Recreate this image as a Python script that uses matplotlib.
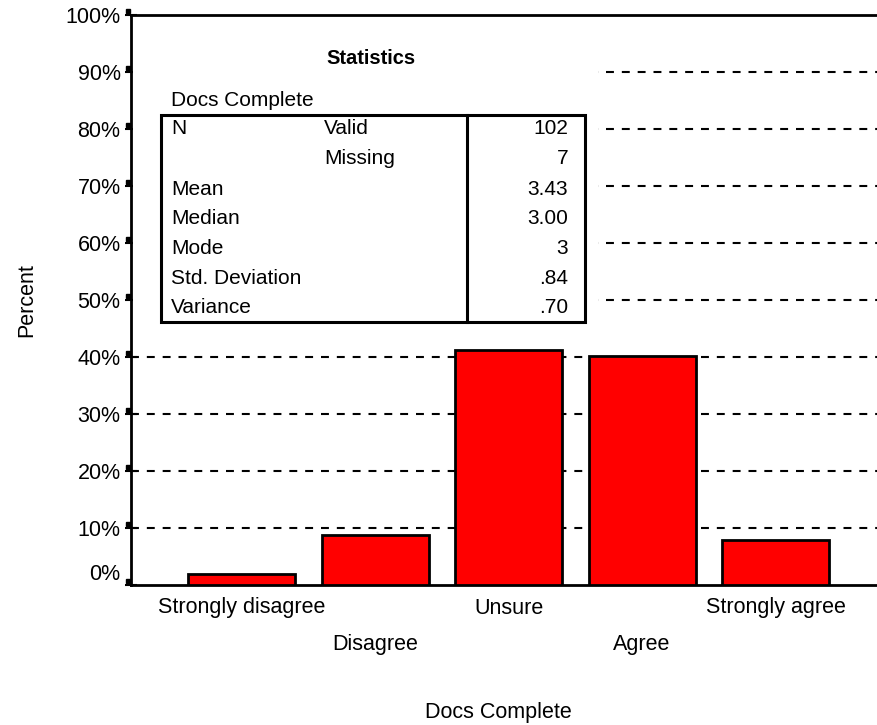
import matplotlib
matplotlib.use("Agg")
import matplotlib.pyplot as plt
from matplotlib.patches import Rectangle

plt.rcParams['font.family'] = ['Liberation Sans', 'DejaVu Sans']

# bar data (percent of valid cases)
categories = ["Strongly disagree", "Disagree", "Unsure", "Agree", "Strongly agree"]
percents = [1.96, 8.82, 41.18, 40.20, 7.84]
yticks = [0, 10, 20, 30, 40, 50, 60, 70, 80, 90, 100]
ytick_labels = ["%d%%" % v for v in yticks]

# statistics table
stat_rows = ["N", "", "Mean", "Median", "Mode", "Std. Deviation", "Variance"]
stat_sub = ["Valid", "Missing", "", "", "", "", ""]
stat_vals = ["102", "7", "3.43", "3.00", "3", ".84", ".70"]

W, H = 877, 725
fig = plt.figure(figsize=(W / 100, H / 100), dpi=100)
ax = fig.add_axes([131 / W, 1 - 585 / H, 746 / W, 570 / H])

x = range(len(categories))
ax.bar(x, percents, width=0.8, color="#ff0000", edgecolor="black", linewidth=2, zorder=3)
for v in yticks[1:-1]:
    ax.axhline(v, color="black", linewidth=1.5, dashes=(3.8, 3.8), zorder=1)

ax.set_xlim(-0.83, 4.76)
ax.set_ylim(0, 100)
ax.set_yticks(yticks, ytick_labels, fontsize=15.5)
ax.set_xticks(list(x), categories, fontsize=15.5)
ax.tick_params(axis="x", length=0)
ax.tick_params(axis="y", direction="inout", length=8, width=1.5)
for i, t in enumerate(ax.xaxis.get_major_ticks()):
    t.set_pad(9 if i % 2 == 0 else 35)
ax.get_yticklabels()[0].set_va("bottom")
# small square tick markers next to the axis
ax.plot([-0.004] * len(yticks), [v + 0.7 for v in yticks], "s", color="black", ms=3,
        transform=ax.get_yaxis_transform(), clip_on=False, zorder=5)

for s in ["left", "top", "bottom"]:
    ax.spines[s].set_linewidth(2)
ax.spines["right"].set_visible(False)

ax.set_ylabel("Percent", fontsize=15.5, labelpad=20)
ax.set_xlabel("Docs Complete", fontsize=15.5)
ax.xaxis.set_label_coords(0.492, -0.205)

# overlay in pixel coordinates for the statistics table
ov = fig.add_axes([0, 0, 1, 1], zorder=10)
ov.set_xlim(0, W)
ov.set_ylim(H, 0)
ov.axis("off")
ov.add_patch(Rectangle((133, 17), 465, 309, facecolor="white", edgecolor="none"))
ov.text(371, 58, "Statistics", fontsize=14.5, fontweight="bold", ha="center", va="center")
ov.text(171, 100, "Docs Complete", fontsize=15, ha="left", va="center")
ov.add_patch(Rectangle((161, 115), 424, 207, facecolor="none", edgecolor="black", linewidth=2.2))
ov.plot([467, 467], [115, 322], color="black", linewidth=2.2)
row_y = [128, 158, 189, 218, 248, 278, 307]
for yy, a, b, v in zip(row_y, stat_rows, stat_sub, stat_vals):
    ov.text(171, yy, a, fontsize=15, ha="left", va="center")
    ov.text(324, yy, b, fontsize=15, ha="left", va="center")
    ov.text(568, yy, v, fontsize=15, ha="right", va="center")

fig.savefig("out.png", dpi=100)
